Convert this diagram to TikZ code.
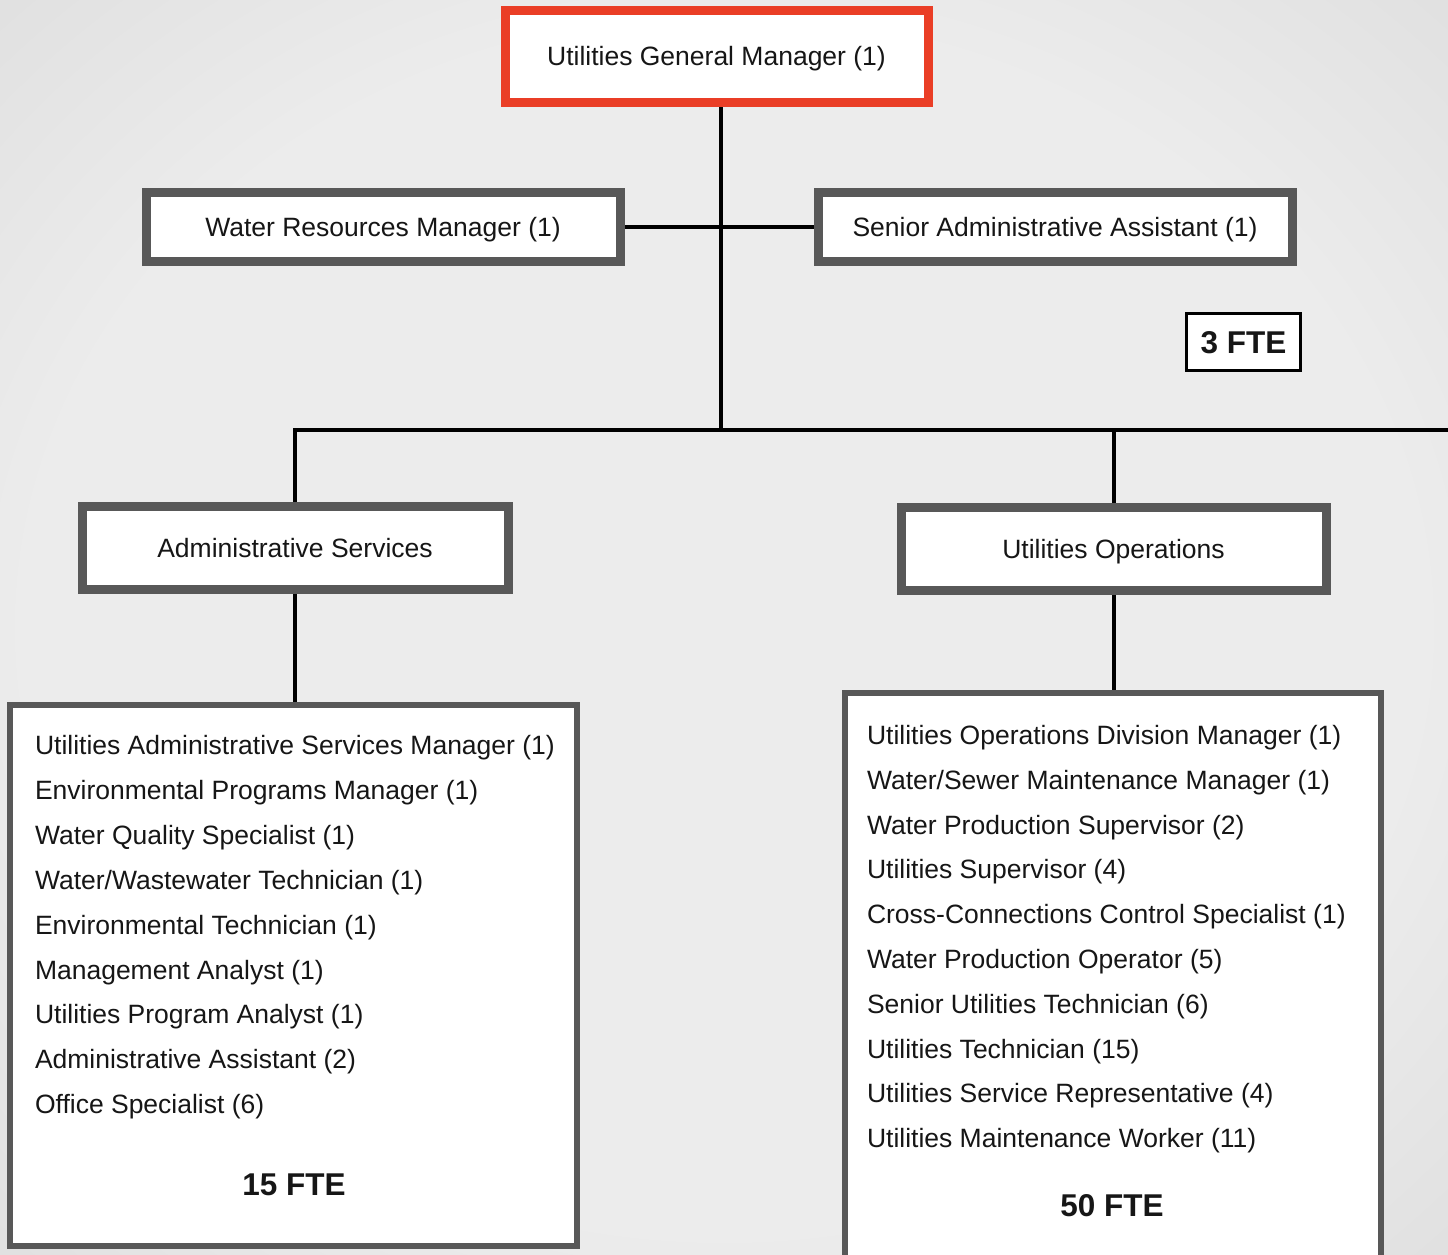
\documentclass[tikz,border=0pt]{standalone}
\usepackage{fontspec}
\setmainfont{Liberation Sans}
\definecolor{bgin}{RGB}{236,236,236}
\definecolor{bgout}{RGB}{210,210,210}
\definecolor{bgedge}{RGB}{172,172,172}
\definecolor{boxgray}{RGB}{88,88,88}
\definecolor{gmred}{RGB}{234,62,38}
\definecolor{txt}{RGB}{22,22,22}
\pgfdeclareradialshading{bgshade}{\pgfpoint{0bp}{0bp}}{color(0bp)=(bgin); color(24bp)=(bgin); color(50bp)=(bgout); color(72bp)=(bgedge)}
\pgfdeclarelayer{back}
\pgfdeclarelayer{conns}
\pgfsetlayers{back,conns,main}
\begin{document}
\begin{tikzpicture}[x=1pt,y=-1pt,
  every node/.style={text=txt, inner sep=0pt, outer sep=0pt},
  lbl/.style={font=\fontsize{26.5}{30}\selectfont, text height=19pt, text depth=0pt},
  boxed/.style={lbl, rectangle, draw=boxgray, line width=9pt, fill=white},
  gmbox/.style={boxed, draw=gmred},
  listbox/.style={rectangle, draw=boxgray, line width=6pt, fill=white},
  item/.style={font=\fontsize{26.5}{30}\selectfont, anchor=base west},
  fte/.style={font=\fontsize{31.5}{34}\bfseries\selectfont, text height=22.5pt, text depth=0pt},
  conn/.style={draw=black, line width=4pt}
]
\useasboundingbox (0,0) rectangle (1448,1255);
\clip (0,0) rectangle (1448,1255);
\begin{pgfonlayer}{back}
\shade[shading=bgshade] (0,0) rectangle (1448,1255);
\end{pgfonlayer}

\node[gmbox, minimum width=423pt, minimum height=91pt] (gm) at (716.5,56.5) {Utilities General Manager (1)};
\node[boxed, minimum width=474pt, minimum height=69pt] (wrm) at (383,226.5) {Water Resources Manager (1)};
\node[boxed, minimum width=474pt, minimum height=69pt] (saa) at (1055,226.5) {Senior Administrative Assistant (1)};
\node[fte, draw=black, line width=3pt, fill=white, minimum width=114pt, minimum height=57pt] (fte3) at (1243.5,342) {3 FTE};
\node[boxed, minimum width=426pt, minimum height=83pt] (admsvc) at (295,547.5) {Administrative Services};
\node[boxed, minimum width=425pt, minimum height=83pt] (ops) at (1113.5,548.5) {Utilities Operations};
\node[listbox, minimum width=567pt, minimum height=541pt] (adminlist) at (293.5,975.5) {};
\node[listbox, minimum width=536pt, minimum height=582pt] (opslist) at (1113,984) {};

\coordinate (trunk) at (721,430);
\coordinate (busR) at (1452,430);

\begin{pgfonlayer}{conns}
\draw[conn] (gm.south -| trunk) -- (trunk);
\draw[conn] (wrm.east) -- (saa.west);
\draw[conn] (busR) -- (admsvc.north |- trunk) -- (admsvc.north);
\draw[conn] (ops.north |- trunk) -- (ops.north);
\draw[conn] (admsvc.south) -- (admsvc.south |- adminlist.north);
\draw[conn] (ops.south) -- (ops.south |- opslist.north);
\end{pgfonlayer}

\foreach \t [count=\i from 0] in {{Utilities Administrative Services Manager (1)},
  {Environmental Programs Manager (1)},
  {Water Quality Specialist (1)},
  {Water/Wastewater Technician (1)},
  {Environmental Technician (1)},
  {Management Analyst (1)},
  {Utilities Program Analyst (1)},
  {Administrative Assistant (2)},
  {Office Specialist (6)}}
  \node[item] (al\i) at (35,{754.5+44.9*\i}) {\t};

\foreach \t [count=\i from 0] in {{Utilities Operations Division Manager (1)},
  {Water/Sewer Maintenance Manager (1)},
  {Water Production Supervisor (2)},
  {Utilities Supervisor (4)},
  {Cross-Connections Control Specialist (1)},
  {Water Production Operator (5)},
  {Senior Utilities Technician (6)},
  {Utilities Technician (15)},
  {Utilities Service Representative (4)},
  {Utilities Maintenance Worker (11)}}
  \node[item] (ol\i) at (867,{744.5+44.8*\i}) {\t};

\node[fte] (fte15) at (294,1184) {15 FTE};
\node[fte] (fte50) at (1112,1205) {50 FTE};
\end{tikzpicture}
\end{document}
